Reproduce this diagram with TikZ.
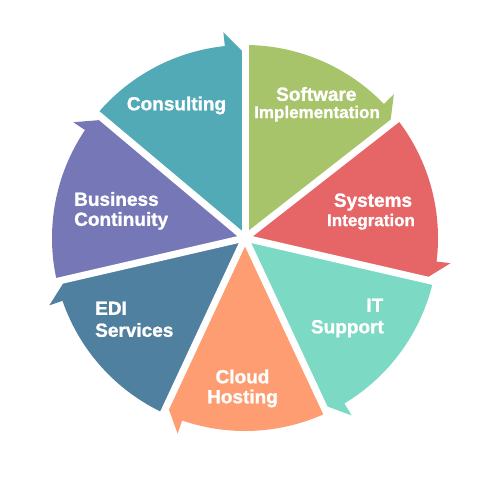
\documentclass[tikz,border=0pt]{standalone}
\usepackage{fontspec}
\setmainfont{Liberation Sans}[BoldFeatures={FakeBold=1.2}]
\definecolor{cConsult}{RGB}{82,170,183}
\definecolor{cSoft}{RGB}{168,196,106}
\definecolor{cSys}{RGB}{230,101,103}
\definecolor{cIT}{RGB}{124,217,196}
\definecolor{cCloud}{RGB}{253,157,113}
\definecolor{cEDI}{RGB}{80,128,160}
\definecolor{cBus}{RGB}{118,119,182}
\begin{document}
\begin{tikzpicture}[x=1pt,y=1pt,
  gapline/.style={white, line width=7pt},
  lbl/.style={text=white, inner sep=0pt, font=\bfseries\fontsize{19}{19}\selectfont},
  lbls/.style={text=white, inner sep=0pt, font=\bfseries\fontsize{17}{17}\selectfont}]
\useasboundingbox (0,0) rectangle (500,500);
\coordinate (C) at (245,262);
\def\R{193}\def\Rt{207}\def\Rs{184}\def\dd{6}
\def\segment#1#2#3{%
  \fill[#3, shift={(C)}] (0,0) -- (#1:\R pt) arc[start angle=#1, end angle=#2+\dd, radius=\R pt]
    -- (#2+\dd:\Rt pt) -- (#2:\Rs pt) -- cycle;}
\segment{140}{90}{cConsult}
\segment{90}{38}{cSoft}
\segment{38}{-13}{cSys}
\segment{-13}{-65}{cIT}
\segment{-65}{-115}{cCloud}
\segment{245}{193}{cEDI}
\segment{193}{140}{cBus}
\foreach \g in {90,38,-13,-65,-115,193,140}
  \draw[gapline] (C) -- ++(\g:230pt);
% labels
\node[lbl, anchor=base] (consult) at (176.5,389.7) {Consulting};
\node[lbl, anchor=base] (soft1) at (316.3,399.2) {Software};
\node[lbls, anchor=base] (soft2) at (317,381.9) {Implementation};
\node[lbl, anchor=base] (sys1) at (373,293.2) {Systems};
\node[lbls, anchor=base] (sys2) at (371,273.9) {Integration};
\node[lbl, anchor=base east] (it1) at (383.5,188.2) {IT};
\node[lbl, anchor=base east] (it2) at (384,166.7) {Support};
\node[lbl, anchor=base] (cloud1) at (242.5,116.7) {Cloud};
\node[lbl, anchor=base] (cloud2) at (242.5,96.7) {Hosting};
\node[lbl, anchor=base west] (edi1) at (95,185.2) {EDI};
\node[lbl, anchor=base west] (edi2) at (95,163.2) {Services};
\node[lbl, anchor=base west] (bus1) at (74,294.2) {Business};
\node[lbl, anchor=base west] (bus2) at (74,274.2) {Continuity};
\end{tikzpicture}
\end{document}
